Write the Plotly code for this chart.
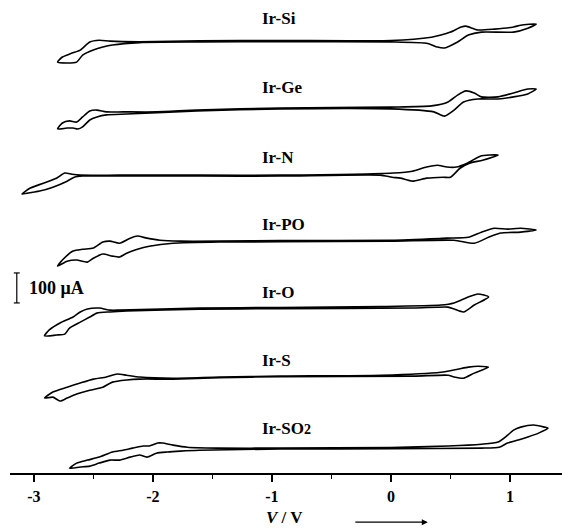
import plotly.graph_objects as go

# ---------------- data (potential in V, current in µA, closed CV loops) ----------------
LABELS = ["Ir-Si", "Ir-Ge", "Ir-N", "Ir-PO", "Ir-O", "Ir-S", "Ir-SO<span style='font-size:14px'>2</span>"]

# vertical stacking offsets of each voltammogram (µA)
OFFSETS = [1440, 1217, 993, 773, 550, 323, 83]

SI_V = [1.22, 1.09, 1.03, 0.87, 0.73, 0.63, 0.59, 0.50, 0.42, 0.34, 0.00, -0.93, -1.61, -2.11, -2.36, -2.45, -2.53, -2.61, -2.68, -2.76, -2.80,
        -2.72, -2.64, -2.59, -2.50, -2.42, -2.34, -2.11, -1.61, -0.93, 0.00, 0.31, 0.39, 0.45, 0.56, 0.65, 0.76, 1.03, 1.15, 1.22]
SI_I = [57, 53, 47, 40, 37, 50, 47, 30, 20, 13, 2, 2, 1, -2, 0, 3, -3, -30, -40, -53, -70,
        -73, -70, -47, -30, -20, -13, -5, -3, -2, -3, -8, -20, -23, -3, 20, 30, 30, 43, 57]

GE_V = [1.22, 1.15, 1.03, 0.90, 0.76, 0.70, 0.63, 0.56, 0.48, 0.34, 0.00, -0.93, -1.63, -1.97, -2.25, -2.39, -2.47, -2.53, -2.59, -2.64, -2.70, -2.76, -2.80,
        -2.72, -2.67, -2.63, -2.59, -2.53, -2.47, -2.39, -2.22, -1.63, -0.93, 0.00, 0.36, 0.45, 0.53, 0.61, 0.73, 0.90, 1.03, 1.15, 1.22]
GE_I = [63, 63, 50, 37, 37, 50, 57, 43, 20, 7, 3, 0, -7, -13, -13, -13, -7, -10, -30, -47, -43, -50, -70,
        -67, -67, -70, -63, -40, -30, -23, -20, -10, -3, -3, -13, -27, -7, 20, 30, 30, 37, 47, 63]

N_V = [0.90, 0.83, 0.75, 0.64, 0.55, 0.47, 0.39, 0.30, 0.18, 0.02, -0.93, -1.61, -2.28, -2.61, -2.68, -2.74, -2.81, -2.92, -3.03, -3.10,
       -3.01, -2.95, -2.84, -2.72, -2.66, -2.59, -2.28, -1.61, -0.93, -0.09, 0.01, 0.08, 0.18, 0.30, 0.44, 0.50, 0.58, 0.66, 0.77, 0.90]
N_I = [67, 67, 63, 40, 27, 27, 33, 27, 13, 7, 0, 0, 0, 0, 3, 7, -10, -27, -43, -63,
       -57, -53, -40, -20, -7, -3, -3, -3, -3, 0, -7, -10, -20, -10, -7, -7, 23, 40, 50, 67]

PO_V = [1.22, 1.09, 0.98, 0.87, 0.76, 0.65, 0.47, 0.00, -0.93, -1.44, -1.77, -1.94, -2.05, -2.13, -2.19, -2.28, -2.36, -2.42, -2.50, -2.59, -2.67, -2.76, -2.80,
        -2.72, -2.64, -2.55, -2.50, -2.42, -2.34, -2.28, -2.22, -2.13, -2.03, -1.83, -1.44, -0.93, 0.00, 0.53, 0.70, 0.82, 0.92, 1.09, 1.22]
PO_I = [37, 43, 40, 43, 30, 13, 10, 3, 2, 0, 0, 3, 10, 17, 10, -7, 0, -3, -23, -27, -33, -63, -83,
        -67, -63, -70, -57, -43, -50, -53, -40, -27, -17, -7, -3, -2, 0, 3, -7, 13, 27, 30, 37]

O_V = [0.82, 0.73, 0.65, 0.53, 0.42, -0.08, -0.93, -1.61, -2.28, -2.36, -2.45, -2.55, -2.61, -2.67, -2.78, -2.87, -2.91,
       -2.81, -2.74, -2.70, -2.61, -2.53, -2.47, -2.36, -2.22, -1.61, -0.93, 0.19, 0.48, 0.53, 0.61, 0.70, 0.82]
O_I = [37, 47, 37, 17, 10, 5, 2, 0, -7, -7, 0, -3, -13, -30, -50, -73, -93,
       -90, -87, -67, -47, -30, -17, -13, -10, -4, -2, 0, 3, -3, -13, 10, 37]

S_V = [0.82, 0.73, 0.65, 0.56, 0.42, -0.08, -0.93, -1.44, -1.83, -2.11, -2.22, -2.30, -2.39, -2.50, -2.61, -2.72, -2.84, -2.91,
       -2.84, -2.78, -2.72, -2.64, -2.53, -2.42, -2.34, -2.22, -2.11, -1.83, -1.44, -0.93, 0.19, 0.48, 0.53, 0.61, 0.70, 0.82]
S_I = [30, 33, 30, 23, 13, 3, 0, -3, -7, -3, 3, 7, -3, -10, -23, -37, -53, -73,
       -70, -83, -73, -60, -47, -37, -20, -13, -10, -10, -5, -2, 0, 3, -3, -7, 10, 30]

SO2_V = [1.32, 1.29, 1.20, 1.09, 1.03, 0.98, 0.90, 0.76, 0.48, 0.00, -0.93, -1.46, -1.71, -1.83, -1.92, -1.96, -2.03, -2.08, -2.17, -2.25, -2.34, -2.45, -2.55, -2.64, -2.70,
         -2.61, -2.53, -2.45, -2.36, -2.28, -2.19, -2.11, -2.05, -1.97, -1.88, -1.77, -1.61, -0.93, 0.00, 0.76, 0.91, 0.98, 1.07, 1.15, 1.24, 1.32]
SO2_I = [67, 70, 77, 70, 60, 43, 20, 13, 7, 2, 0, 0, 3, 10, 17, 17, 7, 7, 0, -7, -13, -30, -40, -50, -67,
         -63, -60, -50, -40, -40, -30, -23, -30, -17, -13, -10, -7, -3, -2, 0, 3, 17, 27, 37, 50, 67]

POTENTIALS = [SI_V, GE_V, N_V, PO_V, O_V, S_V, SO2_V]
CURRENTS = [SI_I, GE_I, N_I, PO_I, O_I, S_I, SO2_I]

LABEL_OFFSET = [77, 67, 60, 57, 53, 53, 67]   # label height above each trace baseline (µA)

X_TICKS = [-3, -2, -1, 0, 1]
X_TICKTEXT = ["-3", "-2", "-1", "0", "1"]
SCALE_BAR_UA = 100
SCALE_BAR_BASE = 567

FONT = "Liberation Serif"

fig = go.Figure()

for v, i, off in zip(POTENTIALS, CURRENTS, OFFSETS):
    fig.add_trace(go.Scatter(
        x=v, y=[c + off for c in i], mode="lines",
        line=dict(color="black", width=1.6, shape="spline", smoothing=0.6),
        hoverinfo="skip", showlegend=False))

# labels
for lab, off, lo in zip(LABELS, OFFSETS, LABEL_OFFSET):
    fig.add_annotation(x=-1.10, y=off + lo, text=lab, showarrow=False,
                       xanchor="left", yanchor="middle",
                       font=dict(family=FONT, size=17, color="black", weight="bold"))

# scale bar
bar_x = -3.143
fig.add_trace(go.Scatter(x=[bar_x, bar_x], y=[SCALE_BAR_BASE, SCALE_BAR_BASE + SCALE_BAR_UA],
                         mode="lines", line=dict(color="black", width=1.2),
                         hoverinfo="skip", showlegend=False))
for yy in [SCALE_BAR_BASE, SCALE_BAR_BASE + SCALE_BAR_UA]:
    fig.add_shape(type="line", x0=bar_x - 0.025, x1=bar_x + 0.025, y0=yy, y1=yy,
                  line=dict(color="black", width=1.2))
fig.add_annotation(x=bar_x + 0.085, y=SCALE_BAR_BASE + SCALE_BAR_UA / 2, text="100 μA",
                   showarrow=False, xanchor="left", yanchor="middle",
                   font=dict(family=FONT, size=18, color="black", weight="bold"))

# axis title and arrow
fig.add_annotation(x=-0.89, y=-0.0951, xref="x", yref="paper", text="<i>V</i> / V",
                   showarrow=False, xanchor="center", yanchor="middle",
                   font=dict(family=FONT, size=17, color="black", weight="bold"))
fig.add_annotation(x=0.31, y=-0.104, xref="x", yref="paper", ax=-74, ay=0, text="",
                   showarrow=True, arrowhead=2, arrowsize=1, arrowwidth=1.2, arrowcolor="black")

fig.update_layout(
    width=562, height=529,
    margin=dict(l=10, r=0, t=0, b=56),
    paper_bgcolor="white", plot_bgcolor="white",
    showlegend=False,
    xaxis=dict(range=[-3.20, 1.437], tickvals=X_TICKS, ticktext=X_TICKTEXT,
               showgrid=False, zeroline=False, showline=True, linecolor="black", linewidth=1.5,
               ticks="outside", ticklen=7, tickwidth=1.5, tickcolor="black",
               ticklabelstandoff=1,
               minor=dict(dtick=0.5, tick0=0, ticks="outside", ticklen=4, tickwidth=1.2,
                          tickcolor="black", showgrid=False),
               tickfont=dict(family=FONT, size=16, color="black", weight="bold"),
               fixedrange=True),
    yaxis=dict(range=[0, 1577], visible=False, fixedrange=True),
)

fig.write_html("out.html")
